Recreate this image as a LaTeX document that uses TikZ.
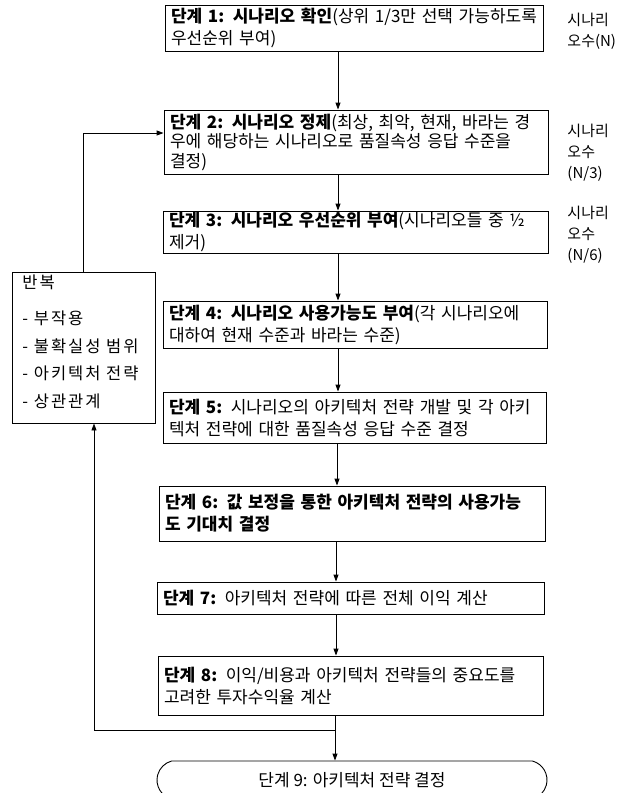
\documentclass[tikz,border=0pt]{standalone}
\usepackage{fontspec}
\setmainfont{Noto Sans CJK KR}
\usetikzlibrary{arrows.meta,shapes.misc}
\begin{document}
\begin{tikzpicture}[x=1pt,y=-1pt,
  line width=0.9pt,
  stepbox/.style={draw,rectangle,inner sep=0pt,align=left,
    font=\fontsize{17}{22}\selectfont},
  sidelabel/.style={anchor=north west,inner sep=0pt,align=left,
    font=\fontsize{15}{21}\selectfont},
  arr/.style={-{Triangle[length=7pt,width=5pt]}}]
\useasboundingbox (0,0) rectangle (629,793);
% step boxes
\node[stepbox,minimum width=378pt,minimum height=46pt,text width=366pt] (b1) at (354,28)
  {\textbf{단계 1: 시나리오 확인}(상위 1/3만 선택 가능하도록\\우선순위 부여)};
\node[stepbox,minimum width=384pt,minimum height=64pt,text width=372pt,
  font=\fontsize{17}{19.5}\selectfont] (b2) at (356,142)
  {\textbf{단계 2: 시나리오 정제}(최상, 최악, 현재, 바라는 경\\우에 해당하는 시나리오로 품질속성 응답 수준을\\결정)};
\node[stepbox,minimum width=385pt,minimum height=42pt,text width=373pt] (b3) at (355.5,232)
  {\textbf{단계 3: 시나리오 우선순위 부여}(시나리오들 중 ½\\제거)};
\node[stepbox,minimum width=384pt,minimum height=47pt,text width=372pt] (b4) at (355,324.5)
  {\textbf{단계 4: 시나리오 사용가능도 부여}(각 시나리오에\\대하여 현재 수준과 바라는 수준)};
\node[stepbox,minimum width=383pt,minimum height=51pt,text width=371pt] (b5) at (354.5,417.5)
  {\textbf{단계 5:} 시나리오의 아키텍처 전략 개발 및 각 아키\\텍처 전략에 대한 품질속성 응답 수준 결정};
\node[stepbox,minimum width=386pt,minimum height=55pt,text width=374pt] (b6) at (352,513.5)
  {\textbf{단계 6: 값 보정을 통한 아키텍처 전략의 사용가능\\도 기대치 결정}};
\node[stepbox,minimum width=387pt,minimum height=32pt,text width=375pt] (b7) at (350.5,598)
  {\textbf{단계 7:} 아키텍처 전략에 따른 전체 이익 계산};
\node[stepbox,minimum width=385pt,minimum height=59pt,text width=373pt] (b8) at (350.5,685.5)
  {\textbf{단계 8:} 이익/비용과 아키텍처 전략들의 중요도를\\고려한 투자수익율 계산};
\node[draw,rounded rectangle,rounded rectangle arc length=150,
  minimum width=390pt,minimum height=38pt,inner sep=0pt,
  font=\fontsize{17}{22}\selectfont] (b9) at (352,780)
  {단계 9: 아키텍처 전략 결정};
% side labels
\node[sidelabel] (n1) at (567,13) {시나리\\오수(N)};
\node[sidelabel] (n2) at (567,124) {시나리\\오수\\(N/3)};
\node[sidelabel] (n3) at (567,206) {시나리\\오수\\(N/6)};
% repeat box
\node[draw,rectangle,minimum width=143pt,minimum height=151pt,inner sep=0pt] (L) at (83.5,347.5) {};
\node[anchor=north west,inner sep=0pt,align=left,
  font=\fontsize{16.5}{27.5}\selectfont\addfontfeatures{LetterSpace=12}] (Lt) at (22,274)
  {반복\\[9pt]- 부작용\\- 불확실성 범위\\- 아키텍처 전략\\- 상관관계};
% vertical arrows
\draw[arr] (b1.south -| 338,0) -- (b2.north -| 338,0);
\draw[arr] (b2.south -| 338,0) -- (b3.north -| 338,0);
\draw[arr] (b3.south -| 338,0) -- (b4.north -| 338,0);
\draw[arr] (b4.south -| 338,0) -- (b5.north -| 338,0);
\draw[arr] (b5.south -| 337,0) -- (b6.north -| 337,0);
\draw[arr] (b6.south -| 336,0) -- (b7.north -| 336,0);
\draw[arr] (b7.south -| 336,0) -- (b8.north -| 336,0);
\draw[arr] (b8.south -| 335,0) -- (b9.north -| 335,0);
% feedback loops
\coordinate (j) at (335,730);
\coordinate (lc) at (94,730);
\draw[arr] (j) -- (lc) -- (L.south -| lc);
\coordinate (tc) at (83,133);
\draw[arr] (L.north -| tc) -- (tc) -- (b2.west |- tc);
\end{tikzpicture}
\end{document}
